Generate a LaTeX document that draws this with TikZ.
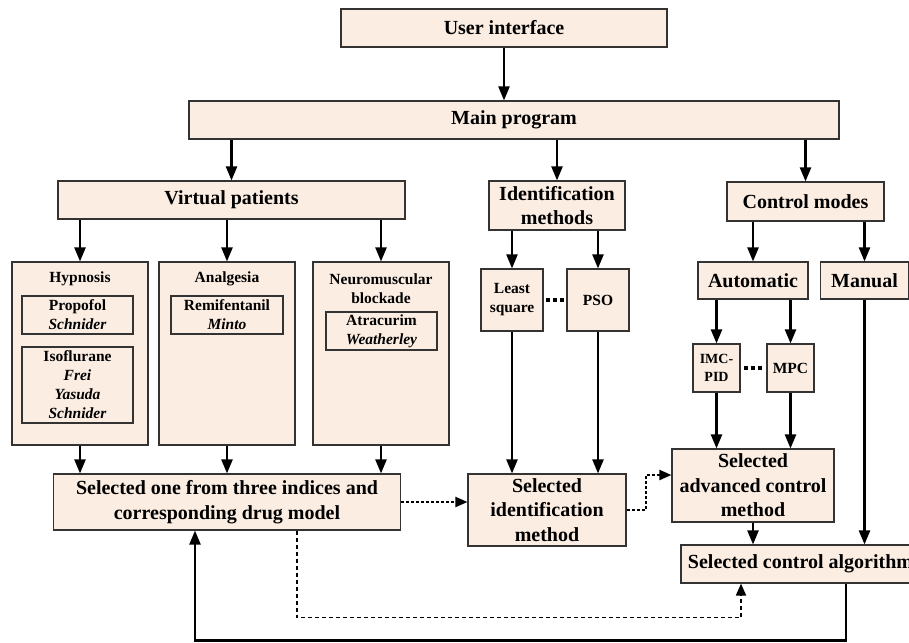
\documentclass[tikz,border=0pt]{standalone}
\usepackage{fontspec}
\setmainfont{Liberation Serif}
\usetikzlibrary{arrows.meta}
\definecolor{boxfill}{RGB}{251,237,226}
\tikzset{
	blk/.style={draw=black!80, fill=boxfill, line width=1.1pt, inner sep=0pt, align=center},
	bigtxt/.style={font=\fontsize{20}{24.5}\selectfont\bfseries, align=center},
	smalltxt/.style={font=\fontsize{15.5}{19}\selectfont\bfseries, align=center},
	tinytxt/.style={font=\fontsize{14}{18}\selectfont\bfseries, align=center},
	arr/.style={line width=2.2pt, -{Triangle[length=14pt,width=11pt]}},
	dotarr/.style={line width=2pt, dash pattern=on 3pt off 2pt, -{Triangle[length=12pt,width=10pt]}},
	dashfb/.style={line width=1.8pt, dash pattern=on 4pt off 3pt, -{Triangle[length=12pt,width=10pt]}},
	dots/.style={line width=3.8pt, dash pattern=on 4pt off 3pt}
}
\begin{document}
\begin{tikzpicture}[x=1pt,y=-1pt]
				\useasboundingbox (0,0) rectangle (909,642);
				\node[blk,bigtxt,minimum width=326pt,minimum height=38pt] (ui) at (504,28) {User interface};
				\node[blk,bigtxt,minimum width=650pt,minimum height=38pt] (main) at (514,120) {Main program};
				\node[blk,bigtxt,minimum width=347pt,minimum height=38pt] (vp) at (231.5,200) {Virtual patients};
				\node[blk,bigtxt,minimum width=136pt,minimum height=49pt] (idm) at (557,205.5) {Identification\\methods};
				\node[blk,bigtxt,minimum width=157pt,minimum height=39pt] (cm) at (805.5,201.5) {Control modes};
				% drug model panels
				\node[blk,minimum width=136pt,minimum height=183pt] (hyp) at (80,353.5) {};
				\node[blk,minimum width=136pt,minimum height=183pt] (ana) at (227,353.5) {};
				\node[blk,minimum width=136pt,minimum height=183pt] (nmb) at (381,353.5) {};
				\node[smalltxt] (hyptitle) at (80,279) {Hypnosis};
				\node[smalltxt] (anatitle) at (227,279) {Analgesia};
				\node[smalltxt] (nmbtitle) at (381,288.5) {Neuromuscular\\blockade};
				\node[blk,smalltxt,minimum width=111pt,minimum height=38pt] (prop) at (77.5,315) {Propofol\\\textit{Schnider}};
				\node[blk,smalltxt,minimum width=111pt,minimum height=76pt] (iso) at (77.5,385) {Isoflurane\\\textit{Frei}\\\textit{Yasuda}\\\textit{Schnider}};
				\node[blk,smalltxt,minimum width=112pt,minimum height=38pt] (remi) at (227,315) {Remifentanil\\\textit{Minto}};
				\node[blk,smalltxt,minimum width=111pt,minimum height=38pt] (atra) at (381.5,331) {Atracurim\\\textit{Weatherley}};
				% identification and control
				\node[blk,smalltxt,minimum width=62pt,minimum height=62pt] (ls) at (512,300) {Least\\square};
				\node[blk,smalltxt,minimum width=62pt,minimum height=62pt] (pso) at (598,300) {PSO};
				\node[blk,bigtxt,minimum width=110pt,minimum height=37pt] (auto) at (753,280.5) {Automatic};
				\node[blk,bigtxt,minimum width=88pt,minimum height=37pt] (man) at (864.5,280.5) {Manual};
				\node[blk,tinytxt,minimum width=47pt,minimum height=48pt] (imc) at (716.5,368) {IMC-\\PID};
				\node[blk,smalltxt,minimum width=47pt,minimum height=48pt] (mpc) at (790.5,368) {MPC};
				% selections
				\node[blk,bigtxt,minimum width=347pt,minimum height=56pt] (sel1) at (227,502) {Selected one from three indices and\\corresponding drug model};
				\node[blk,bigtxt,minimum width=158pt,minimum height=72pt] (selid) at (547,510) {Selected\\identification\\method};
				\node[blk,bigtxt,minimum width=162pt,minimum height=73pt] (seladv) at (753,485.5) {Selected\\advanced control\\method};
				\node[blk,bigtxt,minimum width=239pt,minimum height=38pt] (selalg) at (800.5,564) {Selected control algorithm};
				% arrows
				\draw[arr] (ui.south) -- (ui.south |- main.north);
				\draw[arr] (vp.north |- main.south) -- (vp.north);
				\draw[arr] (idm.north |- main.south) -- (idm.north);
				\draw[arr] (cm.north |- main.south) -- (cm.north);
				\draw[arr] (hyp.north |- vp.south) -- (hyp.north);
				\draw[arr] (ana.north |- vp.south) -- (ana.north);
				\draw[arr] (nmb.north |- vp.south) -- (nmb.north);
				\draw[arr] (ls.north |- idm.south) -- (ls.north);
				\draw[arr] (pso.north |- idm.south) -- (pso.north);
				\draw[arr] (auto.north |- cm.south) -- (auto.north);
				\draw[arr] (man.north |- cm.south) -- (man.north);
				\draw[arr] (imc.north |- auto.south) -- (imc.north);
				\draw[arr] (mpc.north |- auto.south) -- (mpc.north);
				\draw[arr] (hyp.south) -- (hyp.south |- sel1.north);
				\draw[arr] (ana.south) -- (ana.south |- sel1.north);
				\draw[arr] (nmb.south) -- (nmb.south |- sel1.north);
				\draw[arr] (ls.south) -- (ls.south |- selid.north);
				\draw[arr] (pso.south) -- (pso.south |- selid.north);
				\draw[arr] (imc.south) -- (imc.south |- seladv.north);
				\draw[arr] (mpc.south) -- (mpc.south |- seladv.north);
				\draw[arr] (seladv.south) -- (seladv.south |- selalg.north);
				\draw[arr] (man.south) -- (man.south |- selalg.north);
				\draw[dots] ([xshift=2pt]ls.east) -- ([xshift=-2pt]pso.west);
				\draw[dots] ([xshift=3pt]imc.east) -- ([xshift=-3pt]mpc.west);
				\draw[dotarr] (sel1.east) -- (sel1.east -| selid.west);
				\draw[dotarr] (selid.east) -- ++(19,0) |- ([yshift=10.5pt]seladv.west);
				\draw[dashfb] ([xshift=70pt]sel1.south) -- ++(0,87) -| ([xshift=-59.5pt]selalg.south);
				\draw[arr] ([xshift=45.5pt]selalg.south) -- ++(0,57) -| ([xshift=-32pt]sel1.south);
\end{tikzpicture}
\end{document}
